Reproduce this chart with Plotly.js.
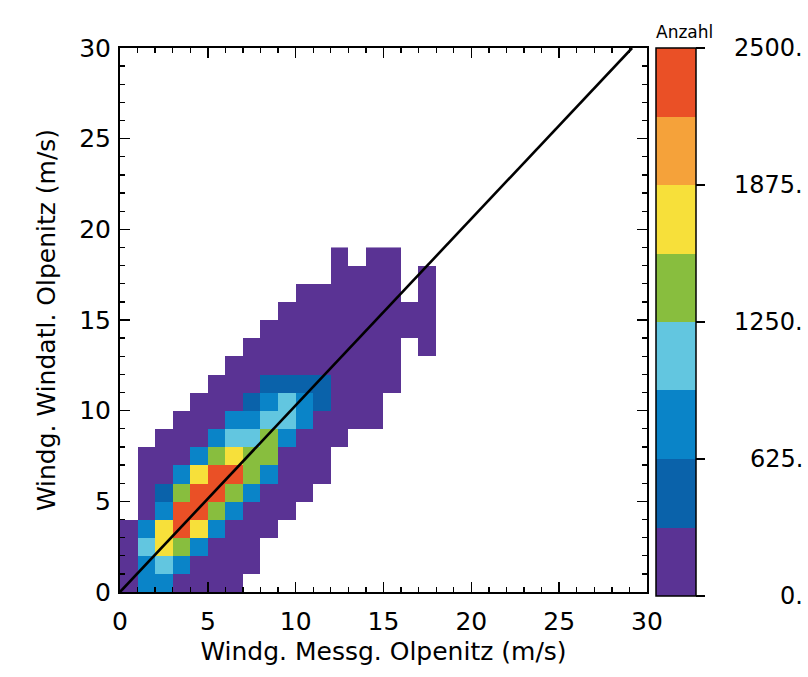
<!DOCTYPE html>
<html>
<head>
<meta charset="utf-8">
<script src="https://cdn.plot.ly/plotly-3.0.1.min.js"></script>
<style>html,body{margin:0;padding:0;background:#fff;}#chart{width:808px;height:677px;}</style>
</head>
<body>
<div id="chart"></div>
<script>
// Bin centres (1 m/s bins)
const binX = [0.5,1.5,2.5,3.5,4.5,5.5,6.5,7.5,8.5,9.5,10.5,11.5,12.5,13.5,14.5,15.5,16.5,17.5];
const binY = [0.5,1.5,2.5,3.5,4.5,5.5,6.5,7.5,8.5,9.5,10.5,11.5,12.5,13.5,14.5,15.5,16.5,17.5,18.5];
const _ = null;
// Counts per bin: one row per y bin, columns = x bins
const counts = [
  [260, 760, 690, 240, 120,  45,  12,   _,   _,   _,   _,   _,   _,   _,   _,   _,   _,   _],
  [210, 820,1050, 700, 280, 110,  38,   9,   _,   _,   _,   _,   _,   _,   _,   _,   _,   _],
  [150,1010,1690,1380, 780, 230,  70,  15,   _,   _,   _,   _,   _,   _,   _,   _,   _,   _],
  [ 90, 720,1740,2290,1710, 800, 260,  60,   8,   _,   _,   _,   _,   _,   _,   _,   _,   _],
  [  _, 240, 760,2380,2260,1400, 690, 180,  40,   6,   _,   _,   _,   _,   _,   _,   _,   _],
  [  _, 130, 520,1430,2330,2240,1460, 730, 190,  50,   7,   _,   _,   _,   _,   _,   _,   _],
  [  _,  60, 240, 700,1750,2300,2210,1350, 690, 170,  40,   5,   _,   _,   _,   _,   _,   _],
  [  _,  20, 110, 280, 720,1330,1680,1480,1290, 280,  70,  12,   _,   _,   _,   _,   _,   _],
  [  _,   _,  40, 130, 250, 760,1060,1120,1300, 820, 210,  40,   6,   _,   _,   _,   _,   _],
  [  _,   _,   _,  50, 140, 290, 680, 790, 980,1040, 700, 150,  30,   8,   3,   _,   _,   _],
  [  _,   _,   _,   _,  40, 120, 260, 540, 720, 960, 730, 420,  80,  20,   4,   _,   _,   _],
  [  _,   _,   _,   _,   _,  30,  90, 230, 450, 500, 470, 380, 110,  30,   9,   2,   _,   _],
  [  _,   _,   _,   _,   _,   _,  20,  60, 150, 210, 190, 130,  60,  20,   5,   2,   _,   _],
  [  _,   _,   _,   _,   _,   _,   _,  15,  50,  90, 110,  80,  40,  14,   6,   2,   _,   1],
  [  _,   _,   _,   _,   _,   _,   _,   _,  12,  40,  50,  36,  25,  10,   4,   2,   1,   1],
  [  _,   _,   _,   _,   _,   _,   _,   _,   _,   8,  20,  18,  12,   6,   3,   2,   1,   1],
  [  _,   _,   _,   _,   _,   _,   _,   _,   _,   _,   6,   7,   5,   3,   2,   1,   _,   1],
  [  _,   _,   _,   _,   _,   _,   _,   _,   _,   _,   _,   _,   2,   2,   1,   1,   _,   1],
  [  _,   _,   _,   _,   _,   _,   _,   _,   _,   _,   _,   _,   1,   _,   1,   1,   _,   _]
];
// Colour levels (0 .. 2500 in 8 steps)
const levelColors = ['#5a3394','#0a62aa','#0a84c8','#62c6e0','#88be3e','#f7e03a','#f5a23a','#ea5026'];
const zMin = 0, zMax = 2500;
const cbTickVals = [0, 625, 1250, 1875, 2500];
const cbTickText = ['0.', '625.', '1250.', '1875.', '2500.'];
// Reference line
const lineX = [0, 29.15];
const lineY = [0, 30];
const axisTicks = [0, 5, 10, 15, 20, 25, 30];

const nLev = levelColors.length;
const colorscale = [];
levelColors.forEach((c, i) => { colorscale.push([i / nLev, c]); colorscale.push([(i + 1) / nLev, c]); });

const FONT = 'DejaVu Sans, Liberation Sans, sans-serif';
const plotTop = 48, plotBottom = 592, plotLeft = 120, plotRight = 647;
const plotH = plotBottom - plotTop, plotW = plotRight - plotLeft;
const cbLenPx = 548, cbThick = 40, cbLeftPx = 656, cbLabelRightPx = 805;
const cbX = (cbLeftPx - plotLeft) / plotW;
const cbFrac = cbLenPx / plotH;
const valToPaperY = v => 1 - (zMax - v) / (zMax - zMin) * cbFrac;

const heat = {
  type: 'heatmap', x: binX, y: binY, z: counts,
  zmin: zMin, zmax: zMax, colorscale: colorscale, hoverongaps: false,
  colorbar: {
    x: cbX, xanchor: 'left', xpad: 0, ypad: 0,
    y: 1, yanchor: 'top', len: cbLenPx, lenmode: 'pixels',
    thickness: cbThick, thicknessmode: 'pixels',
    outlinewidth: 1.5, outlinecolor: '#000',
    tickmode: 'array', tickvals: cbTickVals, ticktext: cbTickText,
    ticks: 'outside', ticklen: 9, tickwidth: 1.5, tickcolor: '#000',
    showticklabels: false
  }
};
const diag = {type: 'scatter', mode: 'lines', x: lineX, y: lineY,
  line: {color: '#000', width: 2.6}, hoverinfo: 'skip', showlegend: false};
const mirrorHolder = {type: 'scatter', mode: 'lines', x: [], y: [], xaxis: 'x2', yaxis: 'y2',
  hoverinfo: 'skip', showlegend: false};

// level separators inside the colour bar
const shapes = [];
for (let k = 1; k < nLev; k++) {
  const yPaper = 1 - (k / nLev) * cbFrac;
  shapes.push({type: 'line', xref: 'paper', yref: 'paper',
    x0: cbX, x1: cbX + cbThick / plotW, y0: yPaper, y1: yPaper,
    line: {color: '#000', width: 1.5}});
}

const annotations = cbTickVals.map((v, i) => ({
  text: cbTickText[i], xref: 'paper', yref: 'paper',
  x: (cbLabelRightPx - plotLeft) / plotW, xanchor: 'right',
  y: valToPaperY(v), yanchor: 'middle', showarrow: false,
  font: {family: FONT, size: 24, color: '#000'}
}));
annotations.push({
  text: 'Anzahl', xref: 'paper', yref: 'paper', x: cbX - 2 / plotW, xanchor: 'left',
  y: 1, yanchor: 'bottom', yshift: 4, showarrow: false,
  font: {family: FONT, size: 17, color: '#000'}
});

const tickStyle = {
  ticks: 'inside', ticklen: 10, tickwidth: 1.6, tickcolor: '#000',
  minor: {dtick: 1, ticks: 'inside', ticklen: 5, tickwidth: 1.3, tickcolor: '#000', showgrid: false},
  showgrid: false, zeroline: false
};
const axisCommon = Object.assign({
  range: [0, 30], tickmode: 'array', tickvals: axisTicks,
  mirror: true, showline: true, linecolor: '#000', linewidth: 2,
  tickfont: {family: FONT, size: 25, color: '#000'}
}, tickStyle);

const layout = {
  width: 808, height: 677,
  margin: {l: plotLeft, r: 808 - plotRight, t: plotTop, b: 677 - plotBottom, pad: 0},
  paper_bgcolor: '#fff', plot_bgcolor: '#fff',
  showlegend: false,
  font: {family: FONT, color: '#000'},
  xaxis: Object.assign({}, axisCommon, {
    title: {text: 'Windg. Messg. Olpenitz (m/s)', font: {family: FONT, size: 25, color: '#000'}, standoff: 7},
    ticklabelstandoff: 6
  }),
  yaxis: Object.assign({}, axisCommon, {
    title: {text: 'Windg. Windatl. Olpenitz (m/s)', font: {family: FONT, size: 25, color: '#000'}, standoff: 16},
    ticklabelstandoff: 2
  }),
  xaxis2: Object.assign({overlaying: 'x', side: 'top', anchor: 'y', range: [0, 30],
    tickmode: 'array', tickvals: axisTicks, showticklabels: false, showline: false}, tickStyle),
  yaxis2: Object.assign({overlaying: 'y', side: 'right', anchor: 'x', range: [0, 30],
    tickmode: 'array', tickvals: axisTicks, showticklabels: false, showline: false}, tickStyle),
  shapes: shapes,
  annotations: annotations
};

Plotly.newPlot('chart', [heat, diag, mirrorHolder], layout, {displayModeBar: false, staticPlot: true});
</script>
</body>
</html>
